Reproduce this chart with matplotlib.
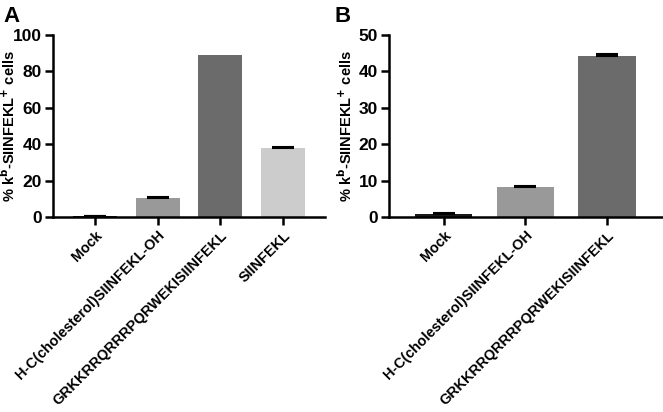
import numpy as np
import matplotlib.pyplot as plt

plt.rcParams['font.family'] = ['Liberation Sans', 'DejaVu Sans']
plt.rcParams['font.weight'] = 'bold'

# panel A data
cats_a = ["Mock", "H-C(cholesterol)SIINFEKL-OH", "GRKKRRQRRRPQRWEKISIINFEKL", "SIINFEKL"]
vals_a = [0.4, 10.7, 89.0, 38.2]
errs_a = [0.1, 0.4, 0.0, 0.3]
cols_a = ["#1a1a1a", "#999999", "#6b6b6b", "#cccccc"]

# panel B data
cats_b = ["Mock", "H-C(cholesterol)SIINFEKL-OH", "GRKKRRQRRRPQRWEKISIINFEKL"]
vals_b = [0.8, 8.2, 44.2]
errs_b = [0.2, 0.3, 0.6]
cols_b = ["#1a1a1a", "#999999", "#6b6b6b"]

ylabel = r"% k$^{\mathbf{b}}$-SIINFEKL$^{\mathbf{+}}$ cells"

fig = plt.figure(figsize=(6.63, 4.12), dpi=100)
axA = fig.add_axes([0.080, 0.473, 0.410, 0.442])
axB = fig.add_axes([0.587, 0.473, 0.411, 0.442])

def draw(ax, cats, vals, errs, cols, ymax, step, labx):
    x = np.arange(len(cats))
    v = np.array(vals)
    e = np.array(errs)
    ax.bar(x, v, width=0.7, color=cols, edgecolor='none', zorder=2)
    # only upper error bars, skip the ones with no spread
    m = e > 0
    ax.errorbar(x[m], v[m], yerr=[np.zeros(m.sum()), e[m]], fmt='none',
                ecolor='black', elinewidth=1.5, capsize=8, capthick=1.5, zorder=3)
    ax.set_xlim(-0.67, len(cats) - 0.33)
    ax.set_ylim(0, ymax)
    ax.set_yticks(np.arange(0, ymax + 1, step))
    ax.set_xticks(x)
    ax.set_xticklabels(cats, rotation=45, ha='right', rotation_mode='anchor',
                       fontsize=10.4, fontweight='bold')
    for s in ['top', 'right']:
        ax.spines[s].set_visible(False)
    for s in ['left', 'bottom']:
        ax.spines[s].set_linewidth(1.8)
    ax.tick_params(axis='both', width=1.8, length=6)
    ax.tick_params(axis='x', pad=2)
    ax.tick_params(axis='y', labelsize=12.5, pad=2)
    ax.set_ylabel(ylabel, fontsize=10.5, fontweight='bold')
    ax.yaxis.set_label_coords(labx, 0.5)

draw(axA, cats_a, vals_a, errs_a, cols_a, 100, 20, -0.13)
draw(axB, cats_b, vals_b, errs_b, cols_b, 50, 10, -0.125)

fig.text(0.005, 0.985, "A", fontsize=16, fontweight='bold', va='top')
fig.text(0.505, 0.985, "B", fontsize=16, fontweight='bold', va='top')

fig.savefig("out.png", dpi=100)
